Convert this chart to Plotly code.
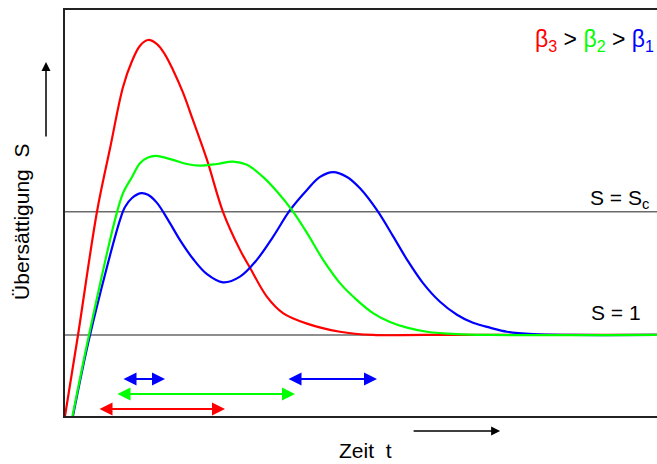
import plotly.graph_objects as go

# Time (arbitrary units) and supersaturation S readings
t_red = [0, 2.17, 5.33, 7.5, 9.67, 11.17, 12.5, 13.83, 15.33, 16.67, 18.0, 19.67, 21.33, 23.67,
         26.33, 29.17, 30.83, 33.67, 36.33, 40.33, 45.83, 51.33, 60, 98.67]
s_red = [0, 1.0, 2.52, 3.30, 4.06, 4.38, 4.57, 4.64, 4.59, 4.46, 4.27, 3.99, 3.65, 3.16,
         2.52, 2.05, 1.83, 1.47, 1.27, 1.14, 1.04, 1.0, 1.0, 1.0]

t_green = [1.25, 4.0, 8.33, 9.67, 11.17, 12.5, 13.83, 15.17, 18.0, 20.33, 22.5, 25.33, 28.0, 30.33,
           33.0, 35.33, 37.83, 40.33, 43.0, 45.83, 48.67, 51.33, 54.17, 57.0, 60.33, 65.33, 70.83, 98.67]
s_green = [0, 1.0, 2.42, 2.75, 2.95, 3.12, 3.19, 3.21, 3.16, 3.11, 3.09, 3.11, 3.14, 3.10,
           2.95, 2.77, 2.54, 2.26, 1.93, 1.64, 1.43, 1.27, 1.16, 1.09, 1.04, 1.01, 1.0, 1.0]

t_blue = [1.33, 4.17, 9.17, 10.0, 11.17, 12.67, 13.83, 15.33, 17.17, 19.17, 21.33, 23.67, 26.33,
          29.17, 32.0, 34.67, 37.5, 40.33, 42.5, 44.67, 47.0, 49.17, 52.0, 54.67, 57.0, 59.67,
          62.5, 65.33, 68.0, 70.83, 73.67, 78.0, 84.17, 98.67]
s_blue = [0, 1.0, 2.42, 2.58, 2.69, 2.75, 2.73, 2.63, 2.42, 2.17, 1.94, 1.75, 1.65,
          1.72, 1.93, 2.21, 2.54, 2.79, 2.95, 3.01, 2.95, 2.81, 2.54, 2.22, 1.93, 1.64,
          1.41, 1.25, 1.15, 1.09, 1.04, 1.01, 1.0, 1.0]

S_one = 1.0
S_c = 2.52

# Time intervals (start, end, level) shown as double arrows
intervals = [
    ("blue", 9.5, 16.67, 0.457),
    ("blue", 37.0, 52.0, 0.457),
    ("#00ff00", 8.5, 38.33, 0.272),
    ("red", 5.5, 26.67, 0.086),
]

X_MAX = 98.67
Y_MAX = 5.01

fig = go.Figure()

for lvl in (S_one, S_c):
    fig.add_trace(go.Scatter(x=[0, X_MAX], y=[lvl, lvl], mode="lines",
                             line=dict(color="#6a6a6a", width=1.5), hoverinfo="skip"))

for tx, sy, col in [(t_red, s_red, "#ff0000"), (t_blue, s_blue, "#0000ff"), (t_green, s_green, "#00ff00")]:
    fig.add_trace(go.Scatter(x=tx, y=sy, mode="lines",
                             line=dict(color=col, width=2.2, shape="spline", smoothing=1.0)))

ann = []
for col, a, b, lvl in intervals:
    ann.append(dict(x=b, y=lvl, ax=a, ay=lvl, xref="x", yref="y", axref="x", ayref="y",
                    text="", showarrow=True, arrowhead=2, arrowside="end+start",
                    arrowsize=1.3, arrowwidth=2, arrowcolor=col))

# axis arrows
ann.append(dict(x=-0.0321, y=0.872, xref="paper", yref="paper", ax=0, ay=76,
                text="", showarrow=True, arrowhead=2, arrowsize=1.2, arrowwidth=1.5, arrowcolor="black"))
ann.append(dict(x=0.735, y=-0.037, xref="paper", yref="paper", ax=-88, ay=0,
                text="", showarrow=True, arrowhead=2, arrowsize=1.2, arrowwidth=1.5, arrowcolor="black"))

font = dict(family="Liberation Sans, Arial", size=21, color="black")
ann.append(dict(x=-0.0726, y=0.478, xref="paper", yref="paper", text="Übersättigung  S",
                textangle=-90, showarrow=False, font=font, xanchor="center", yanchor="middle"))
ann.append(dict(x=0.507, y=-0.084, xref="paper", yref="paper", text="Zeit  t",
                showarrow=False, font=font, xanchor="center", yanchor="middle"))
ann.append(dict(x=0.99, y=0.535, xref="paper", yref="paper", text="S = S<sub>c</sub>",
                showarrow=False, font=font, xanchor="right", yanchor="middle"))
ann.append(dict(x=0.976, y=0.256, xref="paper", yref="paper", text="S = 1",
                showarrow=False, font=font, xanchor="right", yanchor="middle"))
ann.append(dict(x=0.999, y=0.926, xref="paper", yref="paper",
                text="<span style='color:#ff0000'>β<sub>3</sub></span> &gt; "
                     "<span style='color:#00ff00'>β<sub>2</sub></span> &gt; "
                     "<span style='color:#0000ff'>β<sub>1</sub></span>",
                showarrow=False, font=dict(family="Liberation Sans, Arial", size=23, color="black"),
                xanchor="right", yanchor="middle"))

fig.update_layout(
    width=657, height=464,
    margin=dict(l=65, r=0, t=10, b=48),
    paper_bgcolor="white", plot_bgcolor="white",
    showlegend=False,
    xaxis=dict(range=[0, X_MAX], showgrid=False, zeroline=False, showticklabels=False, ticks="",
               showline=True, mirror=True, linecolor="#222", linewidth=2),
    yaxis=dict(range=[0, Y_MAX], showgrid=False, zeroline=False, showticklabels=False, ticks="",
               showline=True, mirror=False, linecolor="#222", linewidth=2),
    annotations=ann,
)

fig.write_html("out.html")
